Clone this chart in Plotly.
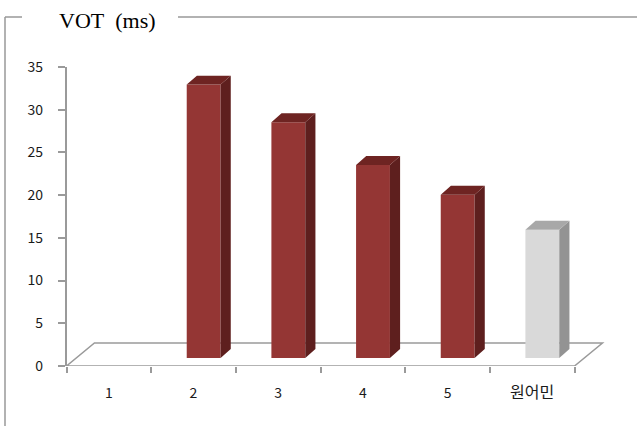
import plotly.graph_objects as go

# Mean VOT per group
categories = ["1", "2", "3", "4", "5", "원어민"]
vot_ms = [None, 32.0, 27.6, 22.6, 19.1, 15.0]
groups = ["learner", "learner", "learner", "learner", "learner", "native"]
y_ticks = [0, 5, 10, 15, 20, 25, 30, 35]

W, H = 637, 426

# face colours (front, side, top) for each group
palette = {
    "learner": ("#943634", "#5e1f1e", "#6e2422"),
    "native": ("#d9d9d9", "#939393", "#a8a8a8"),
}

# pseudo-3D geometry in axis units
bar_w = 0.40          # front face width (category units)
bar_shift = 0.12      # bars sit mid-depth, shifted right
bar_base = 0.94       # front face base height above floor front edge
dx_bar, dy_bar = 0.12, 1.05       # bar depth offset
dx_floor, dy_floor = 0.33, 2.69   # floor depth offset
n = len(categories)
x_max = (610 - 66.5) / 84.67


def px(x):
    return x / W


def py(y):
    return 1 - y / H


fig = go.Figure()

for grp in ["learner", "native"]:
    front, side, top = palette[grp]
    sx, sy, tx, ty = [], [], [], []
    fx, fy = [], []
    for i, (v, g) in enumerate(zip(vot_ms, groups)):
        if g != grp or v is None:
            continue
        xl = i + 0.5 + bar_shift - bar_w / 2
        xr = xl + bar_w
        yb = bar_base
        yt = bar_base + v
        # side face
        sx += [xr, xr + dx_bar, xr + dx_bar, xr, xr, None]
        sy += [yb, yb + dy_bar, yt + dy_bar, yt, yb, None]
        # top face
        tx += [xl, xr, xr + dx_bar, xl + dx_bar, xl, None]
        ty += [yt, yt, yt + dy_bar, yt + dy_bar, yt, None]
        fx.append(i + 0.5 + bar_shift)
        fy.append(v)
    fig.add_trace(go.Scatter(x=sx, y=sy, fill="toself", fillcolor=side,
                             mode="lines", line=dict(width=0, color=side),
                             hoverinfo="skip", showlegend=False))
    fig.add_trace(go.Scatter(x=tx, y=ty, fill="toself", fillcolor=top,
                             mode="lines", line=dict(width=0, color=top),
                             hoverinfo="skip", showlegend=False))
    fig.add_trace(go.Bar(x=fx, y=fy, base=bar_base, width=bar_w,
                         marker=dict(color=front, line=dict(width=0)),
                         showlegend=False, hoverinfo="skip"))

axis_grey = "#9a9a9a"

# floor parallelogram, kept beneath the bars
fx0, fx1 = 0, n
fig.add_shape(
    type="path", xref="x", yref="y", layer="below",
    path=(f"M {fx0},0 L {fx1},0 L {fx1 + dx_floor},{dy_floor} "
          f"L {fx0 + dx_floor},{dy_floor} Z"),
    line=dict(color=axis_grey, width=1.5), fillcolor="rgba(0,0,0,0)",
)

tick_font = dict(family="Noto Sans CJK KR, sans-serif", size=14, color="#1a1a1a")

# Hangul label set a little larger than the digits
tick_text = [c if c.isdigit() else f"<span style='font-size:16px'>{c}</span>"
             for c in categories]

fig.update_layout(
    template="none",
    width=W, height=H,
    margin=dict(l=0, r=0, t=0, b=0, autoexpand=False),
    paper_bgcolor="white", plot_bgcolor="white",
    barmode="overlay",
    xaxis=dict(
        domain=[px(66.5), px(610)], range=[0, x_max], automargin=False,
        tickvals=[i + 0.5 for i in range(n)], ticktext=tick_text,
        ticks="", showline=False, showgrid=False, zeroline=False,
        tickfont=tick_font, ticklabelstandoff=17,
    ),
    xaxis2=dict(
        overlaying="x", matches="x", anchor="y", side="bottom",
        range=[0, x_max], tickvals=list(range(n + 1)), automargin=False,
        ticks="outside", ticklen=6, tickwidth=1.5, tickcolor=axis_grey,
        showticklabels=False, showline=False, showgrid=False, zeroline=False,
    ),
    yaxis=dict(
        domain=[py(366), py(67)], range=[0, 35], automargin=False,
        tickvals=y_ticks, ticks="outside", ticklen=7, tickwidth=1.5,
        tickcolor=axis_grey,
        showline=True, linecolor=axis_grey, linewidth=1.5,
        showgrid=False, zeroline=False,
        tickfont=tick_font, ticklabelstandoff=12,
    ),
)

# invisible trace so the tick-only axis is drawn
fig.add_trace(go.Scatter(x=[0], y=[0], xaxis="x2", mode="markers",
                         marker=dict(opacity=0), hoverinfo="skip",
                         showlegend=False))

# outer frame with the title set into its top edge
frame = dict(type="line", xref="paper", yref="paper",
             line=dict(color="#999999", width=1.5))
fig.add_shape(x0=px(5), x1=px(5), y0=py(17), y1=0, **frame)
fig.add_shape(x0=px(5), x1=px(22), y0=py(17), y1=py(17), **frame)
fig.add_shape(x0=px(178), x1=1, y0=py(17), y1=py(17), **frame)

fig.add_annotation(
    text="VOT\u00a0\u00a0(ms)", xref="paper", yref="paper",
    x=px(57), y=py(20), xanchor="left", yanchor="middle",
    showarrow=False,
    font=dict(family="Liberation Serif, Times New Roman, serif", size=22, color="black"),
)

fig.write_html("out.html")
